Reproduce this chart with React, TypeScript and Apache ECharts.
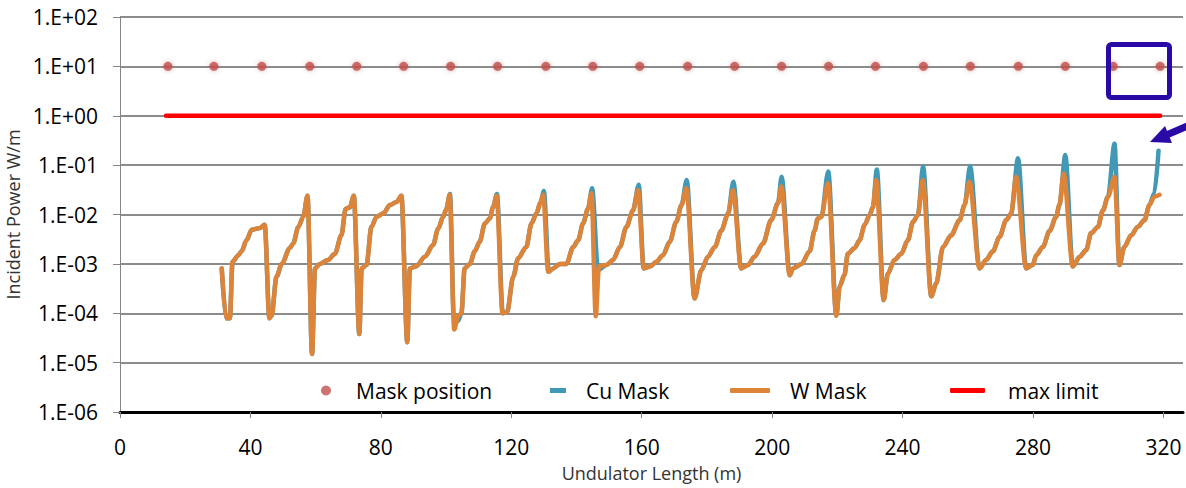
import React, { useEffect, useRef } from 'react';
import * as echarts from 'echarts';

const xTicks = [0, 40, 80, 120, 160, 200, 240, 280, 320];
const yTickLabels = ['1.E-06', '1.E-05', '1.E-04', '1.E-03', '1.E-02', '1.E-01', '1.E+00', '1.E+01', '1.E+02'];

const maskPositions = [
  [14.7, 10], [28.8, 10], [43.5, 10], [58.2, 10], [72.6, 10], [87.0, 10], [101.4, 10], [115.8, 10],
  [130.6, 10], [145.0, 10], [159.4, 10], [174.1, 10], [188.5, 10], [202.9, 10], [217.3, 10], [231.7, 10],
  [246.4, 10], [260.8, 10], [275.5, 10], [289.9, 10], [304.6, 10], [319.0, 10],
];

const maxLimit = [[14.1, 1], [319.0, 1]];

const wMask = [
  [31.2, 8.1e-4], [32.5, 7.9e-5], [33.7, 7.9e-5], [34.5, 1.1e-3], [36.3, 1.5e-3], [37.3, 1.8e-3], [38.8, 3.0e-3],
  [40.4, 4.9e-3], [42.9, 5.3e-3], [44.4, 6.2e-3], [45.8, 7.9e-5], [46.5, 9.0e-5], [48.0, 5.5e-4], [49.6, 1.0e-3],
  [52.1, 2.1e-3], [53.1, 2.6e-3], [54.7, 5.6e-3], [56.2, 9.0e-3], [57.5, 2.4e-2], [58.9, 1.5e-5], [59.8, 8.1e-4],
  [61.3, 1.0e-3], [63.8, 1.2e-3], [65.9, 1.6e-3], [67.9, 3.8e-3], [69.2, 1.3e-2], [70.5, 1.4e-2], [71.7, 2.4e-2],
  [73.4, 3.8e-5], [74.1, 8.1e-4], [75.6, 9.5e-4], [77.1, 5.6e-3], [78.7, 9.0e-3], [80.7, 1.05e-2], [82.8, 1.55e-2],
  [84.8, 1.8e-2], [86.3, 2.4e-2], [88.1, 2.6e-5], [88.9, 8.1e-4], [90.9, 9.0e-4], [93.5, 1.4e-3], [96.0, 2.4e-3],
  [97.6, 5.2e-3], [99.1, 9.0e-3], [100.1, 1.3e-2], [101.1, 2.5e-2], [102.5, 4.7e-5], [103.7, 8.7e-5], [104.7, 1.0e-4],
  [105.7, 8.1e-4], [107.3, 1.0e-3], [108.8, 1.8e-3], [110.3, 2.8e-3], [111.9, 6.6e-3], [113.4, 8.3e-3], [114.4, 1.4e-2],
  [115.5, 2.4e-2], [117.3, 1.0e-4], [118.7, 1.05e-4], [120.6, 5.5e-4], [122.1, 1.3e-3], [124.6, 2.2e-3], [126.2, 6.6e-3],
  [127.7, 1.05e-2], [129.0, 1.8e-2], [129.8, 2.5e-2], [131.3, 6.9e-4], [132.8, 8.1e-4], [134.9, 1.0e-3], [136.9, 1.0e-3],
  [139.0, 2.2e-3], [140.5, 3.0e-3], [142.0, 6.6e-3], [143.5, 1.3e-2], [144.6, 2.7e-2], [145.9, 8.7e-5], [146.9, 9.0e-4],
  [149.2, 9.5e-4], [151.2, 1.2e-3], [153.3, 2.2e-3], [155.3, 5.6e-3], [157.3, 1.2e-2], [158.9, 3.1e-2], [160.6, 8.1e-4],
  [162.5, 8.8e-4], [164.5, 1.1e-3], [166.5, 1.5e-3], [168.6, 2.8e-3], [170.6, 7.1e-3], [172.2, 1.55e-2], [173.7, 3.4e-2],
  [176.2, 2.0e-4], [178.3, 7.5e-4], [180.3, 1.4e-3], [182.4, 2.2e-3], [184.4, 4.7e-3], [186.5, 1.05e-2], [188.0, 3.1e-2],
  [190.5, 8.1e-4], [192.6, 9.5e-4], [194.6, 1.4e-3], [197.2, 2.6e-3], [199.7, 7.7e-3], [201.8, 1.7e-2], [202.8, 3.7e-2],
  [205.4, 5.9e-4], [206.4, 8.1e-4], [209.0, 1.0e-3], [211.5, 1.8e-3], [213.0, 4.7e-3], [214.0, 8.3e-3], [215.1, 9.0e-3],
  [217.1, 4.3e-2], [219.7, 9.0e-5], [220.7, 3.5e-4], [222.2, 6.0e-4], [223.2, 1.6e-3], [225.3, 2.1e-3], [226.8, 3.0e-3],
  [228.4, 6.2e-3], [229.9, 9.8e-3], [230.9, 1.4e-2], [231.9, 5.0e-2], [234.2, 1.85e-4], [235.5, 6.4e-4], [237.5, 1.2e-3],
  [239.6, 1.6e-3], [241.6, 3.0e-3], [243.2, 7.1e-3], [244.7, 9.8e-3], [246.2, 5.0e-2], [248.8, 2.2e-4], [250.3, 4.0e-4],
  [252.4, 2.2e-3], [254.9, 3.8e-3], [257.5, 7.7e-3], [259.0, 1.55e-2], [260.5, 4.6e-2], [263.6, 8.1e-4], [265.6, 1.2e-3],
  [267.7, 1.8e-3], [269.7, 3.5e-3], [271.8, 7.7e-3], [273.3, 1.05e-2], [274.8, 5.8e-2], [277.9, 8.1e-4], [279.9, 9.5e-4],
  [281.0, 1.5e-3], [283.0, 2.2e-3], [285.1, 4.7e-3], [287.1, 9.0e-3], [288.1, 1.55e-2], [289.4, 6.8e-2], [292.2, 8.8e-4],
  [294.3, 1.4e-3], [296.3, 1.9e-3], [297.8, 4.2e-3], [299.9, 5.6e-3], [301.4, 1.2e-2], [303.0, 2.3e-2], [305.0, 5.8e-2],
  [306.5, 9.5e-4], [308.0, 2.2e-3], [310.1, 3.8e-3], [312.1, 5.6e-3], [314.2, 7.7e-3], [315.7, 1.55e-2], [317.2, 2.3e-2],
  [318.8, 2.5e-2],
];

const cuMask = [
  [31.2, 8.1e-4], [32.5, 7.9e-5], [33.7, 7.9e-5], [34.5, 1.1e-3], [36.3, 1.5e-3], [37.3, 1.8e-3], [38.8, 3.0e-3],
  [40.4, 4.9e-3], [42.9, 5.3e-3], [44.4, 6.2e-3], [45.8, 7.9e-5], [46.5, 9.0e-5], [48.0, 5.5e-4], [49.6, 1.0e-3],
  [52.1, 2.1e-3], [53.1, 2.6e-3], [54.7, 5.6e-3], [56.2, 9.0e-3], [57.5, 2.4e-2], [58.9, 1.5e-5], [59.8, 8.1e-4],
  [61.3, 1.0e-3], [63.8, 1.2e-3], [65.9, 1.6e-3], [67.9, 3.8e-3], [69.2, 1.3e-2], [70.5, 1.4e-2], [71.7, 2.4e-2],
  [73.4, 3.8e-5], [74.1, 8.1e-4], [75.6, 9.5e-4], [77.1, 5.6e-3], [78.7, 9.0e-3], [80.7, 1.05e-2], [82.8, 1.55e-2],
  [84.8, 1.8e-2], [86.3, 2.4e-2], [88.1, 2.6e-5], [88.9, 8.1e-4], [90.9, 9.0e-4], [93.5, 1.4e-3], [96.0, 2.4e-3],
  [97.6, 5.2e-3], [99.1, 9.0e-3], [100.1, 1.3e-2], [101.2, 2.6e-2], [102.4, 7.9e-5], [103.7, 7.0e-5], [104.7, 1.0e-4],
  [105.7, 8.1e-4], [107.3, 1.0e-3], [108.8, 1.8e-3], [110.3, 2.8e-3], [111.9, 6.6e-3], [113.4, 8.3e-3], [114.4, 1.4e-2],
  [115.6, 2.6e-2], [117.4, 1.0e-4], [118.7, 1.05e-4], [120.6, 5.5e-4], [122.1, 1.3e-3], [124.6, 2.2e-3], [126.2, 6.6e-3],
  [127.7, 1.05e-2], [129.0, 1.8e-2], [130.0, 3.0e-2], [131.5, 6.9e-4], [132.8, 8.1e-4], [134.9, 1.0e-3], [136.9, 1.0e-3],
  [139.0, 2.2e-3], [140.5, 3.0e-3], [142.0, 6.6e-3], [143.5, 1.3e-2], [144.8, 3.4e-2], [146.6, 7.5e-4],
  [149.2, 9.5e-4], [151.2, 1.2e-3], [153.3, 2.2e-3], [155.3, 5.6e-3], [157.3, 1.2e-2], [159.1, 4.0e-2], [160.6, 8.1e-4],
  [162.5, 8.8e-4], [164.5, 1.1e-3], [166.5, 1.5e-3], [168.6, 2.8e-3], [170.6, 7.1e-3], [172.2, 1.55e-2], [173.8, 5.0e-2],
  [176.2, 2.0e-4], [178.3, 7.5e-4], [180.3, 1.4e-3], [182.4, 2.2e-3], [184.4, 4.7e-3], [186.5, 1.05e-2], [188.1, 4.6e-2],
  [190.5, 8.1e-4], [192.6, 9.5e-4], [194.6, 1.4e-3], [197.2, 2.6e-3], [199.7, 7.7e-3], [201.8, 1.7e-2], [202.9, 5.8e-2],
  [205.4, 5.9e-4], [206.4, 8.1e-4], [209.0, 1.0e-3], [211.5, 1.8e-3], [213.0, 4.7e-3], [214.0, 8.3e-3], [215.1, 9.0e-3],
  [217.2, 7.4e-2], [219.7, 9.0e-5], [220.7, 3.5e-4], [222.2, 6.0e-4], [223.2, 1.6e-3], [225.3, 2.1e-3], [226.8, 3.0e-3],
  [228.4, 6.2e-3], [229.9, 9.8e-3], [230.9, 1.4e-2], [232.1, 8.2e-2], [234.2, 1.85e-4], [235.5, 6.4e-4], [237.5, 1.2e-3],
  [239.6, 1.6e-3], [241.6, 3.0e-3], [243.2, 7.1e-3], [244.7, 9.8e-3], [246.3, 9.3e-2], [248.8, 2.2e-4], [250.3, 4.0e-4],
  [252.4, 2.2e-3], [254.9, 3.8e-3], [257.5, 7.7e-3], [259.0, 1.55e-2], [260.7, 9.6e-2], [263.6, 8.1e-4], [265.6, 1.2e-3],
  [267.7, 1.8e-3], [269.7, 3.5e-3], [271.8, 7.7e-3], [273.3, 1.05e-2], [275.4, 1.38e-1], [277.9, 8.1e-4], [279.9, 9.5e-4],
  [281.0, 1.5e-3], [283.0, 2.2e-3], [285.1, 4.7e-3], [287.1, 9.0e-3], [288.1, 1.55e-2], [289.9, 1.6e-1], [292.2, 8.8e-4],
  [294.3, 1.4e-3], [296.3, 1.9e-3], [297.8, 4.2e-3], [299.9, 5.6e-3], [301.4, 1.2e-2], [303.0, 2.3e-2], [305.0, 2.7e-1],
  [306.5, 9.5e-4], [308.0, 2.2e-3], [310.1, 3.8e-3], [312.1, 5.6e-3], [314.2, 7.7e-3], [315.7, 1.55e-2], [317.2, 2.7e-2],
  [318.5, 1.96e-1],
];

const FONT = 'Open Sans';
const ANNOT = '#2a0aa6';

export default function App() {
  const ref = useRef<HTMLDivElement>(null);
  useEffect(() => {
    const chart = echarts.init(ref.current!, null, { renderer: 'svg' });
    const legendText = (pad: number) => ({
      fontSize: 21, fontFamily: FONT, color: '#000', padding: [0, 0, 0, pad],
    });
    chart.setOption({
      animation: false,
      backgroundColor: '#fff',
      grid: { left: 120, right: 3, top: 17, bottom: 76, containLabel: false, outerBoundsMode: 'none' },
      xAxis: {
        type: 'value', min: 0, max: 326,
        name: 'Undulator Length (m)', nameLocation: 'middle', nameGap: 52,
        nameTextStyle: { fontSize: 18, fontFamily: FONT, color: '#333' },
        axisLine: { lineStyle: { color: '#000', width: 3 } },
        axisTick: { show: true, customValues: xTicks, length: 6, lineStyle: { color: '#868686', width: 1 } },
        axisLabel: { customValues: xTicks, fontSize: 21, fontFamily: FONT, color: '#000', margin: 24 },
        splitLine: { show: false },
      },
      yAxis: {
        type: 'log', logBase: 10, min: 1e-6, max: 100, splitNumber: 8,
        name: 'Incident Power W/m', nameLocation: 'middle', nameGap: 86, nameRotate: 90,
        nameTextStyle: { fontSize: 18, fontFamily: FONT, color: '#333' },
        axisLine: { show: true, lineStyle: { color: '#868686', width: 1 } },
        axisTick: { show: true, length: 7, lineStyle: { color: '#868686', width: 1 } },
        axisLabel: {
          fontSize: 21, fontFamily: FONT, color: '#000', margin: 22,
          formatter: (v: number) => yTickLabels[Math.round(Math.log10(v)) + 6] ?? '',
        },
        splitLine: { show: true, lineStyle: { color: '#8c8c8c', width: 2 } },
      },
      legend: [
        { data: [{ name: 'Mask position', icon: 'circle' }], left: 321, top: 380, padding: 0, itemWidth: 10, itemHeight: 10, selectedMode: false, textStyle: legendText(20) },
        { data: [{ name: 'Cu Mask', icon: 'rect' }], left: 550, top: 380, padding: 0, itemWidth: 16, itemHeight: 5, selectedMode: false, textStyle: legendText(15) },
        { data: [{ name: 'W Mask', icon: 'roundRect' }], left: 730, top: 380, padding: 0, itemWidth: 40, itemHeight: 5, selectedMode: false, textStyle: legendText(15) },
        { data: [{ name: 'max limit', icon: 'roundRect' }], left: 950, top: 380, padding: 0, itemWidth: 35, itemHeight: 5, selectedMode: false, textStyle: legendText(18) },
      ],
      series: [
        {
          name: 'Mask position', type: 'scatter', data: maskPositions, symbolSize: 9, z: 4,
          itemStyle: { color: '#c0504d', shadowBlur: 4, shadowColor: 'rgba(192,80,77,0.6)' },
        },
        {
          name: 'Cu Mask', type: 'line', data: cuMask, showSymbol: false, smooth: 0.3, smoothMonotone: 'x',
          itemStyle: { color: '#4299b6' },
          lineStyle: { color: '#4299b6', width: 4.5, cap: 'round', join: 'round' }, z: 2,
        },
        {
          name: 'W Mask', type: 'line', data: wMask, showSymbol: false, smooth: 0.3, smoothMonotone: 'x',
          itemStyle: { color: '#de8438' },
          lineStyle: { color: '#de8438', width: 4.5, cap: 'round', join: 'round' }, z: 3,
        },
        {
          name: 'max limit', type: 'line', data: maxLimit, showSymbol: false,
          itemStyle: { color: '#ff0000' },
          lineStyle: { color: '#ff0000', width: 4.5, cap: 'round' }, z: 3,
        },
      ],
      graphic: [
        { type: 'rect', z: 100, shape: { x: 1108.5, y: 44.5, width: 61, height: 53, r: 3 }, style: { fill: 'none', stroke: ANNOT, lineWidth: 5 } },
        { type: 'line', z: 100, shape: { x1: 1163, y1: 136.5, x2: 1192, y2: 124 }, style: { stroke: ANNOT, lineWidth: 7 } },
        { type: 'polygon', z: 100, shape: { points: [[1150, 142], [1165, 126], [1172, 143]] }, style: { fill: ANNOT } },
      ],
    });
    return () => chart.dispose();
  }, []);
  return (
    <div
      ref={ref}
      style={{ position: 'fixed', left: 0, top: 0, width: 1186, height: 488, background: '#fff' }}
    />
  );
}
